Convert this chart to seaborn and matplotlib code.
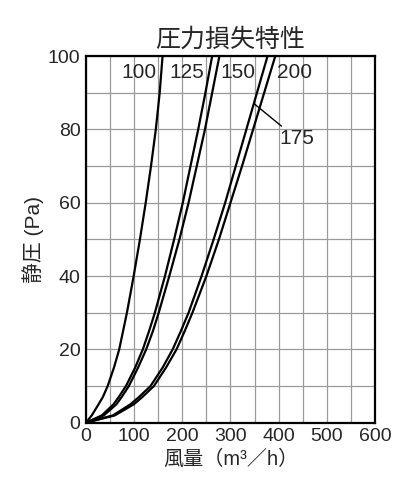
import matplotlib
matplotlib.use("Agg")
import matplotlib.pyplot as plt
import seaborn as sns
import pandas as pd
from matplotlib.ticker import MultipleLocator

# static pressure (Pa) levels where the curves were read
pressure = [0, 2, 5, 7, 10, 15, 20, 25, 30, 40, 50, 60, 70, 80, 90, 100]

# air flow (m3/h) for each duct size at those pressures
flow_100 = [0, 12, 26, 35, 45, 58, 69, 77, 85, 99, 112, 124, 135, 145, 153, 159]
flow_125 = [0, 33, 57, 68, 83, 102, 118, 131, 143, 164, 183, 201, 217, 233, 248, 262]
flow_150 = [0, 37, 63, 74, 89, 108, 125, 139, 151, 173, 194, 213, 230, 247, 262, 277]
flow_175 = [0, 56, 92, 110, 134, 159, 180, 197, 213, 240, 265, 289, 311, 333, 355, 377]
flow_200 = [0, 60, 99, 117, 141, 166, 188, 205, 221, 250, 276, 300, 324, 347, 370, 393]

sizes = ["100", "125", "150", "175", "200"]
flows = [flow_100, flow_125, flow_150, flow_175, flow_200]

rows = []
for size, fl in zip(sizes, flows):
    for q, p in zip(fl, pressure):
        rows.append({"size": size, "flow": q, "pressure": p})
df = pd.DataFrame(rows)

sns.set_style("white")
plt.rcParams["font.family"] = ["Liberation Sans", "Noto Sans CJK JP", "DejaVu Sans"]

fig = plt.figure(figsize=(4.16, 4.88), dpi=100)
ax = fig.add_axes([0.2067, 0.1338, 0.6947, 0.7514])

sns.lineplot(data=df, x="flow", y="pressure", units="size", estimator=None,
             sort=False, color="black", linewidth=1.6, ax=ax)
for line in ax.lines:
    line.set_solid_joinstyle("round")

ax.set_xlim(0, 600)
ax.set_ylim(0, 100)
ax.xaxis.set_major_locator(MultipleLocator(100))
ax.xaxis.set_minor_locator(MultipleLocator(50))
ax.yaxis.set_major_locator(MultipleLocator(20))
ax.yaxis.set_minor_locator(MultipleLocator(10))
ax.grid(which="both", color="#9a9a9a", linewidth=0.9)
ax.set_axisbelow(True)
ax.tick_params(which="both", length=0, labelsize=14, pad=4)
for s in ax.spines.values():
    s.set_color("black")
    s.set_linewidth(1.6)

# curve labels
for txt, x in [("100", 110), ("125", 209), ("150", 316), ("200", 432)]:
    ax.text(x, 95.5, txt, fontsize=15, ha="center", va="center")
ax.annotate("175", xy=(349, 87), xytext=(402, 77.4), fontsize=15,
            ha="left", va="center",
            arrowprops=dict(arrowstyle="-", color="black", lw=1.0,
                            shrinkA=0, shrinkB=0))

ax.set_title("圧力損失特性", fontsize=18, pad=7)
ax.set_xlabel("風量（m³／h）", fontsize=14.5, labelpad=3)
ax.set_ylabel("静圧 (Pa)", fontsize=15, labelpad=3)

fig.savefig("out.png", dpi=100, facecolor="white")
